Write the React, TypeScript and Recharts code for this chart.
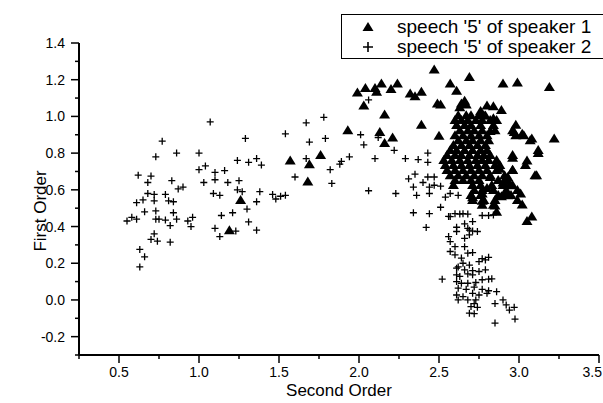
import React from 'react';
import { ScatterChart, Scatter, XAxis, YAxis } from 'recharts';

const xTicks = [0.25, 0.5, 0.75, 1.0, 1.25, 1.5, 1.75, 2.0, 2.25, 2.5, 2.75, 3.0, 3.25, 3.5];
const xMajor = [0.5, 1.0, 1.5, 2.0, 2.5, 3.0, 3.5];
const yTicks = [-0.3, -0.2, -0.1, 0, 0.1, 0.2, 0.3, 0.4, 0.5, 0.6, 0.7, 0.8, 0.9, 1.0, 1.1, 1.2, 1.3, 1.4];
const yMajor = [-0.2, 0, 0.2, 0.4, 0.6, 0.8, 1.0, 1.2, 1.4];

const seriesNames = ["speech '5' of speaker 1", "speech '5' of speaker 2"];

const speaker1 = [
  [1.99, 1.13], [2.03, 1.06], [2.04, 1.155], [2.1, 1.155], [2.11, 1.135], [2.14, 1.18], [2.16, 1.01],
  [2.2, 1.15], [2.24, 1.18], [2.32, 1.125], [2.35, 1.11], [2.39, 1.135], [2.47, 1.255], [2.49, 1.07],
  [2.51, 1.065], [2.57, 1.18], [2.61, 1.14], [2.69, 1.215], [2.9, 1.18], [2.99, 1.185], [3.19, 1.16],
  [3.22, 0.88], [2.39, 0.955], [1.93, 0.925], [2.13, 0.915], [2.16, 0.855], [2.21, 0.885], [2.5, 0.895],
  [1.57, 0.76], [1.69, 0.74], [1.76, 0.79], [1.68, 0.645], [1.26, 0.545], [1.19, 0.38],
  [2.64, 1.07], [2.66, 1.085], [2.67, 1.065], [2.63, 1.05], [2.76, 1.03], [2.8, 1.06], [2.84, 1.055],
  [2.89, 1.035], [2.79, 1.005], [2.84, 0.99], [2.82, 0.92], [2.98, 0.955], [2.97, 0.915], [3.02, 0.905],
  [3.08, 0.88], [2.96, 0.775], [3.05, 0.76], [3.12, 0.8], [3.11, 0.68], [2.96, 0.71], [2.88, 0.715],
  [2.93, 0.67], [2.94, 0.625], [2.9, 0.64], [3.01, 0.58], [3.02, 0.52], [3.08, 0.455], [3.05, 0.43],
  [2.89, 0.565], [2.93, 0.57], [2.85, 0.515], [2.86, 0.48], [2.77, 0.54], [2.71, 0.56], [2.77, 0.58],
  [2.8, 0.61], [2.82, 0.67],
  [2.62, 1.007], [2.67, 1.007], [2.7, 1.007], [2.75, 1.007], [2.78, 1.007],
  [2.6, 0.98], [2.64, 0.98], [2.68, 0.98], [2.73, 0.98], [2.77, 0.98], [2.82, 0.98], [2.86, 0.98],
  [2.61, 0.953], [2.66, 0.953], [2.7, 0.953], [2.76, 0.953], [2.84, 0.953],
  [2.63, 0.925], [2.68, 0.925], [2.72, 0.925], [2.77, 0.925], [2.85, 0.925], [2.96, 0.925],
  [2.6, 0.898], [2.65, 0.898], [2.7, 0.898], [2.75, 0.898], [2.8, 0.898], [2.98, 0.898], [3.03, 0.898],
  [2.62, 0.87], [2.67, 0.87], [2.71, 0.87], [2.76, 0.87], [2.81, 0.87], [3.07, 0.87],
  [2.59, 0.844], [2.64, 0.844], [2.69, 0.844], [2.74, 0.844], [2.79, 0.844],
  [2.57, 0.817], [2.61, 0.817], [2.66, 0.817], [2.71, 0.817], [2.76, 0.817], [2.8, 0.817], [3.12, 0.817],
  [2.55, 0.79], [2.6, 0.79], [2.64, 0.79], [2.69, 0.79], [2.74, 0.79], [2.78, 0.79], [2.82, 0.79], [2.96, 0.79],
  [2.53, 0.762], [2.58, 0.762], [2.63, 0.762], [2.68, 0.762], [2.73, 0.762], [2.77, 0.762], [2.81, 0.762], [2.86, 0.762],
  [2.54, 0.735], [2.59, 0.735], [2.64, 0.735], [2.69, 0.735], [2.74, 0.735], [2.79, 0.735], [2.85, 0.735], [2.88, 0.735], [3.04, 0.735],
  [2.55, 0.708], [2.6, 0.708], [2.65, 0.708], [2.7, 0.708], [2.75, 0.708], [2.8, 0.708], [2.86, 0.708], [2.96, 0.708],
  [2.57, 0.68], [2.62, 0.68], [2.67, 0.68], [2.72, 0.68], [2.77, 0.68], [2.82, 0.68], [2.91, 0.68], [3.1, 0.68],
  [2.6, 0.653], [2.65, 0.653], [2.7, 0.653], [2.75, 0.653], [2.87, 0.653], [2.93, 0.653],
  [2.59, 0.626], [2.71, 0.626], [2.76, 0.626], [2.83, 0.626], [2.9, 0.626], [2.96, 0.626],
  [2.72, 0.599], [2.77, 0.599], [2.84, 0.599], [2.92, 0.599], [2.99, 0.599],
  [2.7, 0.572], [2.76, 0.572], [2.87, 0.572], [2.91, 0.572], [2.95, 0.572],
  [2.71, 0.545], [2.78, 0.545], [2.85, 0.545], [2.99, 0.545],
  [2.77, 0.518], [2.84, 0.518],
].map(([x, y]) => ({ x, y }));

const speaker2 = [
  [0.55, 0.43], [0.58, 0.45], [0.61, 0.44], [0.61, 0.53], [0.62, 0.68], [0.65, 0.545], [0.66, 0.48],
  [0.68, 0.58], [0.68, 0.64], [0.7, 0.675], [0.7, 0.33], [0.72, 0.575], [0.72, 0.54], [0.73, 0.485],
  [0.73, 0.44], [0.72, 0.36], [0.74, 0.32], [0.73, 0.78], [0.75, 0.44], [0.77, 0.865], [0.79, 0.575],
  [0.79, 0.435], [0.81, 0.54], [0.82, 0.405], [0.82, 0.315], [0.83, 0.65], [0.84, 0.535], [0.84, 0.475],
  [0.86, 0.44], [0.86, 0.8], [0.87, 0.605], [0.9, 0.615], [0.93, 0.43], [0.95, 0.4], [0.96, 0.45],
  [0.63, 0.275], [0.66, 0.235], [0.63, 0.18], [1.0, 0.8], [1.0, 0.71], [1.04, 0.73], [1.03, 0.64],
  [1.07, 0.97], [1.1, 0.655], [1.1, 0.695], [1.09, 0.58], [1.13, 0.57], [1.16, 0.705], [1.14, 0.46],
  [1.1, 0.39], [1.13, 0.345], [1.18, 0.64], [1.21, 0.475], [1.23, 0.375], [1.24, 0.76], [1.25, 0.65],
  [1.24, 0.6], [1.27, 0.59], [1.29, 0.88], [1.31, 0.75], [1.3, 0.495], [1.31, 0.425], [1.36, 0.77],
  [1.39, 0.735], [1.36, 0.535], [1.38, 0.59], [1.36, 0.38], [1.46, 0.575], [1.48, 0.55], [1.51, 0.565],
  [1.54, 0.57], [1.54, 0.905], [1.6, 0.67], [1.67, 0.965], [1.69, 0.86], [1.67, 0.77], [1.78, 0.995],
  [1.79, 0.88], [1.82, 0.71], [1.83, 0.635], [1.88, 0.74], [1.89, 0.755], [1.94, 0.78], [2.01, 0.9],
  [2.03, 0.845], [2.06, 1.09], [2.06, 0.595], [2.1, 0.77], [2.12, 0.885], [2.22, 0.815], [2.23, 0.58],
  [2.29, 0.77], [2.31, 0.66], [2.35, 0.685], [2.34, 0.615], [2.36, 0.57], [2.37, 0.765], [2.34, 0.475],
  [2.4, 0.64], [2.43, 0.8], [2.43, 0.75], [2.43, 0.67], [2.44, 0.615], [2.44, 0.58], [2.44, 0.47],
  [2.42, 0.395], [2.47, 0.625], [2.47, 0.67], [2.51, 0.505], [2.51, 0.62], [2.54, 0.56], [2.56, 0.455],
  [2.57, 0.58], [2.6, 0.47], [2.62, 0.57], [2.65, 0.47], [2.66, 0.415], [2.69, 0.38], [2.77, 0.46],
  [2.81, 0.46], [2.71, 0.375],
  [2.57, 0.454], [2.63, 0.468], [2.68, 0.468], [2.84, 0.463], [2.71, 0.427], [2.61, 0.396], [2.61, 0.373],
  [2.68, 0.39], [2.74, 0.373], [2.69, 0.355], [2.56, 0.345], [2.57, 0.318], [2.66, 0.336], [2.6, 0.29],
  [2.66, 0.29], [2.57, 0.264], [2.6, 0.246], [2.64, 0.228], [2.68, 0.255], [2.71, 0.258], [2.75, 0.209],
  [2.79, 0.218], [2.81, 0.232], [2.65, 0.2], [2.69, 0.19], [2.61, 0.173], [2.66, 0.164], [2.71, 0.16],
  [2.75, 0.155], [2.79, 0.164], [2.52, 0.113], [2.61, 0.137], [2.63, 0.128], [2.68, 0.142], [2.71, 0.137],
  [2.61, 0.1], [2.64, 0.091], [2.68, 0.091], [2.73, 0.095], [2.77, 0.11], [2.81, 0.113], [2.83, 0.115],
  [2.62, 0.064], [2.67, 0.058], [2.72, 0.07], [2.77, 0.058], [2.81, 0.05], [2.61, 0.027], [2.65, 0.018],
  [2.71, 0.036], [2.75, 0.027], [2.8, 0.036], [2.86, 0.045], [2.62, 0.0], [2.68, 0.0], [2.73, 0.0],
  [2.72, -0.02], [2.85, -0.02], [2.9, 0.0], [2.7, -0.036], [2.74, -0.04], [2.92, -0.027], [2.97, -0.04],
  [2.94, -0.055], [2.69, -0.072], [2.72, -0.075], [2.975, -0.104], [2.85, -0.126], [2.62, 0.18], [2.77, 0.225],
].map(([x, y]) => ({ x, y }));

const FONT = '"Liberation Sans", Arial, Helvetica, sans-serif';
const AXIS_X = 79;
const AXIS_Y = 355;

const Triangle = (props: any) => {
  const { cx, cy } = props;
  if (cx == null || cy == null) return null;
  return <polygon points={`${cx},${cy - 5} ${cx - 5.5},${cy + 4} ${cx + 5.5},${cy + 4}`} fill="#000" />;
};

const Plus = (props: any) => {
  const { cx, cy } = props;
  if (cx == null || cy == null) return null;
  return (
    <path d={`M${cx - 3.5},${cy}H${cx + 3.5}M${cx},${cy - 3.5}V${cy + 3.5}`} stroke="#000" strokeWidth={1.3} fill="none" />
  );
};

const isMajor = (v: number, majors: number[]) => majors.some((m) => Math.abs(m - v) < 1e-6);

const XTick = (props: any) => {
  const { x, payload } = props;
  const v = payload.value;
  const major = isMajor(v, xMajor);
  const last = Math.abs(v - 3.5) < 1e-6;
  return (
    <g>
      <line x1={x} x2={x} y1={AXIS_Y} y2={AXIS_Y + (major ? 8 : 4)} stroke="#000" strokeWidth={1.5} />
      {major && (
        <text x={last ? 602 : x} y={AXIS_Y + 22} textAnchor={last ? 'end' : 'middle'} fontSize={14} fontFamily={FONT} fill="#000">
          {v.toFixed(1)}
        </text>
      )}
    </g>
  );
};

const YTick = (props: any) => {
  const { y, payload } = props;
  const v = payload.value;
  const major = isMajor(v, yMajor);
  return (
    <g>
      <line x1={AXIS_X - (major ? 8 : 4)} x2={AXIS_X} y1={y} y2={y} stroke="#000" strokeWidth={1.5} />
      {major && (
        <text x={AXIS_X - 14} y={y + 5} textAnchor="end" fontSize={14} fontFamily={FONT} fill="#000">
          {Math.abs(v) < 1e-9 ? '0.0' : v.toFixed(1)}
        </text>
      )}
    </g>
  );
};

const LegendSymbol = ({ kind }: { kind: number }) => (
  <svg width={14} height={14} style={{ display: 'block' }}>
    {kind === 0 ? (
      <polygon points="7,2 1.5,11 12.5,11" fill="#000" />
    ) : (
      <path d="M2,7H12M7,2V12" stroke="#000" strokeWidth={1.6} />
    )}
  </svg>
);

export default function App() {
  return (
    <div style={{ position: 'absolute', left: 0, top: 0, width: 603, height: 403, overflow: 'hidden', background: '#fff' }}>
      <ScatterChart width={603} height={403} margin={{ top: 43, right: 4, bottom: 0, left: 0 }}>
        <XAxis
          type="number"
          dataKey="x"
          domain={[0.25, 3.5]}
          ticks={xTicks}
          interval={0}
          height={48}
          allowDataOverflow
          axisLine={{ stroke: '#000', strokeWidth: 2 }}
          tickLine={false}
          tick={<XTick />}
          label={{
            content: (p: any) => {
              const vb = p.viewBox;
              return (
                <text x={vb.x + vb.width / 2} y={vb.y + 41} textAnchor="middle" fontSize={17} fontFamily={FONT} fill="#000">
                  Second Order
                </text>
              );
            },
          }}
        />
        <YAxis
          type="number"
          dataKey="y"
          domain={[-0.3, 1.4]}
          ticks={yTicks}
          interval={0}
          width={79}
          allowDataOverflow
          axisLine={{ stroke: '#000', strokeWidth: 2 }}
          tickLine={false}
          tick={<YTick />}
          label={{
            content: (p: any) => {
              const vb = p.viewBox;
              const cx = 40;
              const cy = vb.y + vb.height / 2 + 12;
              return (
                <text x={cx} y={cy} transform={`rotate(-90 ${cx} ${cy})`} textAnchor="middle" dominantBaseline="central" fontSize={17} fontFamily={FONT} fill="#000">
                  First Order
                </text>
              );
            },
          }}
        />
        <Scatter name={seriesNames[1]} data={speaker2} shape={<Plus />} isAnimationActive={false} />
        <Scatter name={seriesNames[0]} data={speaker1} shape={<Triangle />} isAnimationActive={false} />
      </ScatterChart>
      <div
        style={{
          position: 'absolute',
          left: 341,
          top: 14,
          width: 300,
          height: 43,
          borderTop: '1.5px solid #000',
          borderBottom: '1.5px solid #000',
          borderLeft: '1.5px solid #000',
          background: '#fff',
          fontFamily: FONT,
          fontSize: 19,
          color: '#000',
        }}
      >
        {seriesNames.map((name, i) => (
          <div key={name} style={{ position: 'absolute', left: 0, top: 2 + i * 20, height: 20, display: 'flex', alignItems: 'center' }}>
            <div style={{ width: 14, marginLeft: 19 }}>
              <LegendSymbol kind={i} />
            </div>
            <span style={{ marginLeft: 22, whiteSpace: 'nowrap', lineHeight: '20px' }}>{name}</span>
          </div>
        ))}
      </div>
    </div>
  );
}
